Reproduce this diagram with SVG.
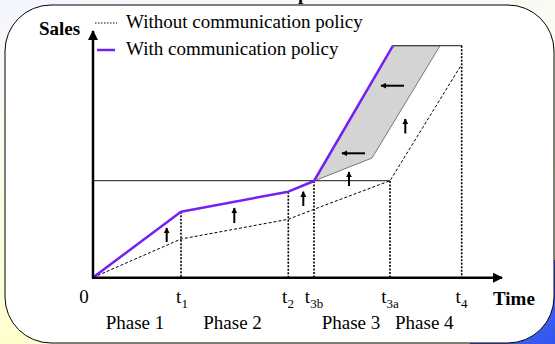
<svg xmlns="http://www.w3.org/2000/svg" width="555" height="344" viewBox="0 0 555 344">
<defs>
<linearGradient id="bg" x1="0" y1="0" x2="0.3" y2="1">
<stop offset="0" stop-color="#f4f6ff"/>
<stop offset="0.35" stop-color="#fbfbf0"/>
<stop offset="1" stop-color="#ffffc8"/>
</linearGradient>
<linearGradient id="blue" x1="0" y1="0" x2="1" y2="1">
<stop offset="0" stop-color="#5577ff"/>
<stop offset="1" stop-color="#3355ee"/>
</linearGradient>
<marker id="ah" viewBox="0 0 10 10" refX="9" refY="5" markerWidth="4" markerHeight="4" orient="auto" markerUnits="strokeWidth">
<path d="M0,0 L10,5 L0,10 Z" fill="#000"/>
</marker>
<marker id="sah" viewBox="0 0 10 10" refX="9" refY="5" markerWidth="3" markerHeight="3" orient="auto" markerUnits="strokeWidth">
<path d="M0,0 L10,5 L0,10 Z" fill="#000"/>
</marker>
</defs>
<style>
text{font-family:'Liberation Serif','DejaVu Serif',serif;fill:#000;font-size:19px}
.b{font-weight:bold}
.ax{stroke:#000;stroke-width:2.5;fill:none}
.vd{stroke:#000;stroke-width:1.6;stroke-dasharray:2,1.5;fill:none}
.ds{stroke:#000;stroke-width:1;stroke-dasharray:3,2;fill:none}
.pu{stroke:#7420f2;stroke-width:2.5;fill:none;stroke-linejoin:round}
.hl{stroke:#444;stroke-width:1.2;fill:none}
.sa{stroke:#000;stroke-width:2;fill:none}
</style>
<rect x="0" y="0" width="555" height="344" fill="url(#bg)"/>
<rect x="470" y="260" width="85" height="84" fill="url(#blue)"/>
<text class="b" x="298" y="0" font-size="24" font-family="Liberation Serif, serif">p</text>
<rect x="5" y="5" width="549" height="338" rx="46" ry="46" fill="#fff" stroke="#000" stroke-width="1"/>

<g id="legend" font-family="Liberation Serif, serif">
<line x1="95" y1="23" x2="117" y2="23" stroke="#000" stroke-width="1" stroke-dasharray="1.5,1.5"/>
<text x="126" y="28" font-family="Liberation Serif, serif">Without communication policy</text>
<line x1="97" y1="50" x2="115" y2="50" stroke="#7420f2" stroke-width="2.5"/>
<text x="126" y="55" font-family="Liberation Serif, serif">With communication policy</text>
</g>

<g id="area">
<polygon points="314,181 393,45.7 440,45.7 372,158" fill="#d4d4d4" stroke="#777" stroke-width="1"/>
</g>

<g id="connectors">
<line class="hl" x1="93" y1="180.7" x2="390" y2="180.7"/>
<line class="hl" x1="393" y1="45.7" x2="462" y2="45.7"/>
<line class="vd" x1="181" y1="211.7" x2="181" y2="277"/>
<line class="vd" x1="288.3" y1="191.7" x2="288.3" y2="277"/>
<line class="vd" x1="314" y1="181" x2="314" y2="277"/>
<line class="vd" x1="390" y1="181" x2="390" y2="277"/>
<line class="vd" x1="461.7" y1="45.7" x2="461.7" y2="277"/>
<polyline class="ds" points="93,277.5 181,239 288.3,219.3 314,209.3 390,180.7 461.7,64.3"/>
<polyline class="pu" points="93,277.5 181,211.7 288.3,191.7 314,181 393,45.7"/>
<line class="ax" x1="93" y1="278" x2="93" y2="31" marker-end="url(#ah)"/>
<line class="ax" x1="92" y1="277.7" x2="502" y2="277.7" marker-end="url(#ah)"/>
<line class="sa" x1="166.7" y1="242" x2="166.7" y2="228" marker-end="url(#sah)"/>
<line class="sa" x1="234.3" y1="223" x2="234.3" y2="208" marker-end="url(#sah)"/>
<line class="sa" x1="303.3" y1="206" x2="303.3" y2="191.7" marker-end="url(#sah)"/>
<line class="sa" x1="349" y1="186" x2="349" y2="172" marker-end="url(#sah)"/>
<line class="sa" x1="405.3" y1="133.5" x2="405.3" y2="119" marker-end="url(#sah)"/>
<line class="sa" x1="365" y1="153.3" x2="342" y2="153.3" marker-end="url(#sah)"/>
<line class="sa" x1="404" y1="85.7" x2="381" y2="85.7" marker-end="url(#sah)"/>
</g>

<g id="labels" font-family="Liberation Serif, serif">
<text class="b" x="39" y="35" font-size="20" font-family="Liberation Serif, serif">Sales</text>
<text class="b" x="493" y="305" font-size="20" font-family="Liberation Serif, serif">Time</text>
<text x="84" y="303" text-anchor="middle" font-family="Liberation Serif, serif">0</text>
<text x="182" y="303" text-anchor="middle" font-family="Liberation Serif, serif">t<tspan font-size="13" dy="5">1</tspan></text>
<text x="288" y="303" text-anchor="middle" font-family="Liberation Serif, serif">t<tspan font-size="13" dy="5">2</tspan></text>
<text x="314" y="303" text-anchor="middle" font-family="Liberation Serif, serif">t<tspan font-size="13" dy="5">3b</tspan></text>
<text x="390" y="303" text-anchor="middle" font-family="Liberation Serif, serif">t<tspan font-size="13" dy="5">3a</tspan></text>
<text x="461.5" y="303" text-anchor="middle" font-family="Liberation Serif, serif">t<tspan font-size="13" dy="5">4</tspan></text>
<text x="105.7" y="328.5" font-family="Liberation Serif, serif">Phase 1</text>
<text x="203.3" y="328.5" font-family="Liberation Serif, serif">Phase 2</text>
<text x="321.7" y="328.5" font-family="Liberation Serif, serif">Phase 3</text>
<text x="395" y="328.5" font-family="Liberation Serif, serif">Phase 4</text>
</g>
</svg>
